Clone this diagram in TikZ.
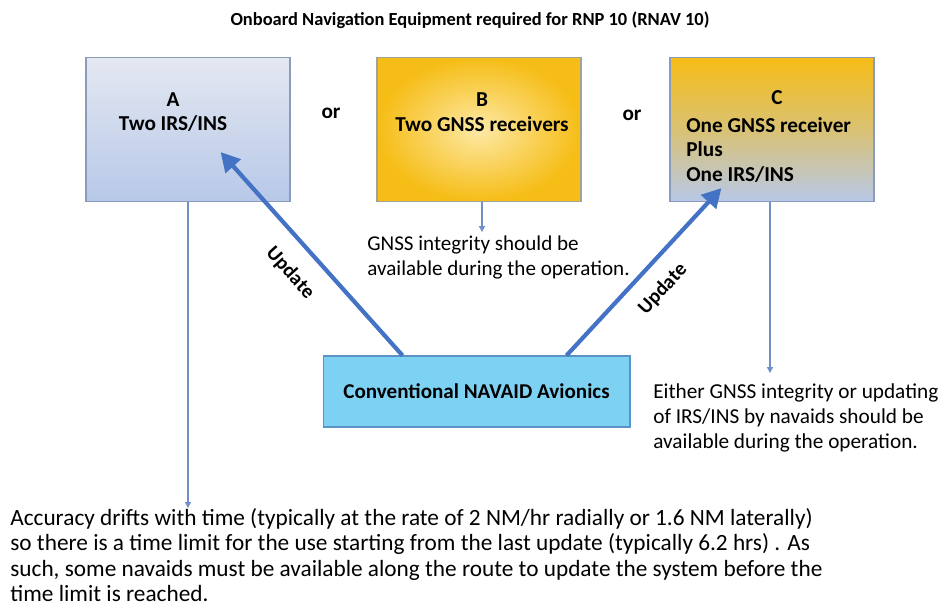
\documentclass[tikz,border=0pt]{standalone}
\usepackage{fontspec}
\setmainfont{Carlito}
\usepackage{tikz}
\usetikzlibrary{arrows.meta,positioning}

\definecolor{boxedge}{HTML}{8A9CBA}
\definecolor{paleblue}{HTML}{B7C8E8}
\definecolor{palegrey}{HTML}{E4E8F1}
\definecolor{gold}{HTML}{F6BD16}
\definecolor{lightgold}{HTML}{FDE9A6}
\definecolor{navaidfill}{HTML}{7DD2F4}
\definecolor{navaidedge}{HTML}{5C93C6}
\definecolor{updblue}{HTML}{4472C4}
\definecolor{noteblue}{HTML}{6F8FC8}

\tikzset{
  optbox/.style={draw=boxedge, rectangle, line width=0.7pt, minimum width=4.08cm, minimum height=2.88cm},
  boxtext/.style={font=\fontsize{12.1}{13.9}\selectfont\bfseries, align=center, inner sep=0pt},
  notetext/.style={font=\fontsize{12.1}{14.2}\selectfont, align=left, inner sep=0pt, anchor=west},
  updarrow/.style={draw=updblue, line width=2.4pt, -{Triangle[length=0.38cm, width=0.4cm]}},
  notearrow/.style={draw=noteblue, line width=0.6pt, -{Triangle[length=0.12cm, width=0.12cm]}},
}

\begin{document}
\begin{tikzpicture}[x=0.02cm, y=-0.02cm]
    \useasboundingbox (0,0) rectangle (943,605);

    \node[font=\fontsize{10.5}{13}\selectfont\bfseries] (title) at (470,20) {Onboard Navigation Equipment required for RNP 10 (RNAV 10)};

    % the three options
    \node[optbox, top color=palegrey, bottom color=paleblue] (irsbox) at (188,129.5) {};
    \node[optbox, draw=boxedge!80!gold, inner color=lightgold, outer color=gold] (gnssbox) at (479,129.5) {};
    \node[optbox, top color=gold, bottom color=paleblue, middle color=paleblue!45!gold] (mixbox) at (772,129.5) {};

    \node[boxtext] (irslabel) at (173,112) {A\\Two IRS/INS};
    \node[boxtext] (gnsslabel) at (482,112) {B\\Two GNSS receivers};
    \node[boxtext] (mixhead) at (777,98) {C};
    \node[boxtext, align=left, anchor=north west] (mixlabel) at (686,117) {One GNSS receiver\\Plus\\One IRS/INS};

    \node[boxtext] (orA) at (331,113) {or};
    \node[boxtext] (orB) at (632,115) {or};

    \node[draw=navaidedge, fill=navaidfill, rectangle, line width=0.6pt, minimum width=6.14cm, minimum height=1.42cm,
          font=\fontsize{12}{14}\selectfont\bfseries] (navaid) at (476.5,391.5) {Conventional NAVAID Avionics};

    % updates
    \draw[updarrow] ([xshift=1.6cm]navaid.north west) -- ([xshift=-1.4cm, yshift=1cm]irsbox.south east)
        node[midway, sloped, below=0.36cm, font=\fontsize{11.5}{13}\selectfont\bfseries, inner sep=0pt] (updA) {Update};
    \draw[updarrow] ([xshift=-1.28cm]navaid.north east) -- ([xshift=1.04cm, yshift=0.28cm]mixbox.south west)
        node[midway, sloped, below=0.3cm, font=\fontsize{11.5}{13}\selectfont\bfseries, inner sep=0pt] (updC) {Update};

    % notes
    \node[notetext, font=\fontsize{12}{14.2}\selectfont] (gnssnote) at (367,257.5) {GNSS integrity should be\\available during the operation.};
    \node[notetext] (mixnote) at (653,418) {Either GNSS integrity or updating\\of IRS/INS by navaids should be\\available during the operation.};
    \node[notetext, font=\fontsize{13.25}{14.4}\selectfont] (driftnote) at (10,555) {Accuracy drifts with time (typically at the rate of 2 NM/hr radially or 1.6 NM laterally)\\so there is a time limit for the use starting from the last update (typically 6.2 hrs) . As\\such, some navaids must be available along the route to update the system before the\\time limit is reached.};

    \draw[notearrow] (irsbox.south) -- (irsbox.south |- driftnote.north);
    \draw[notearrow] (gnssbox.south -| gnsslabel) -- ++(0,30);
    \draw[notearrow] ([xshift=-0.04cm]mixbox.south) -- ++(0,171);
\end{tikzpicture}
\end{document}
